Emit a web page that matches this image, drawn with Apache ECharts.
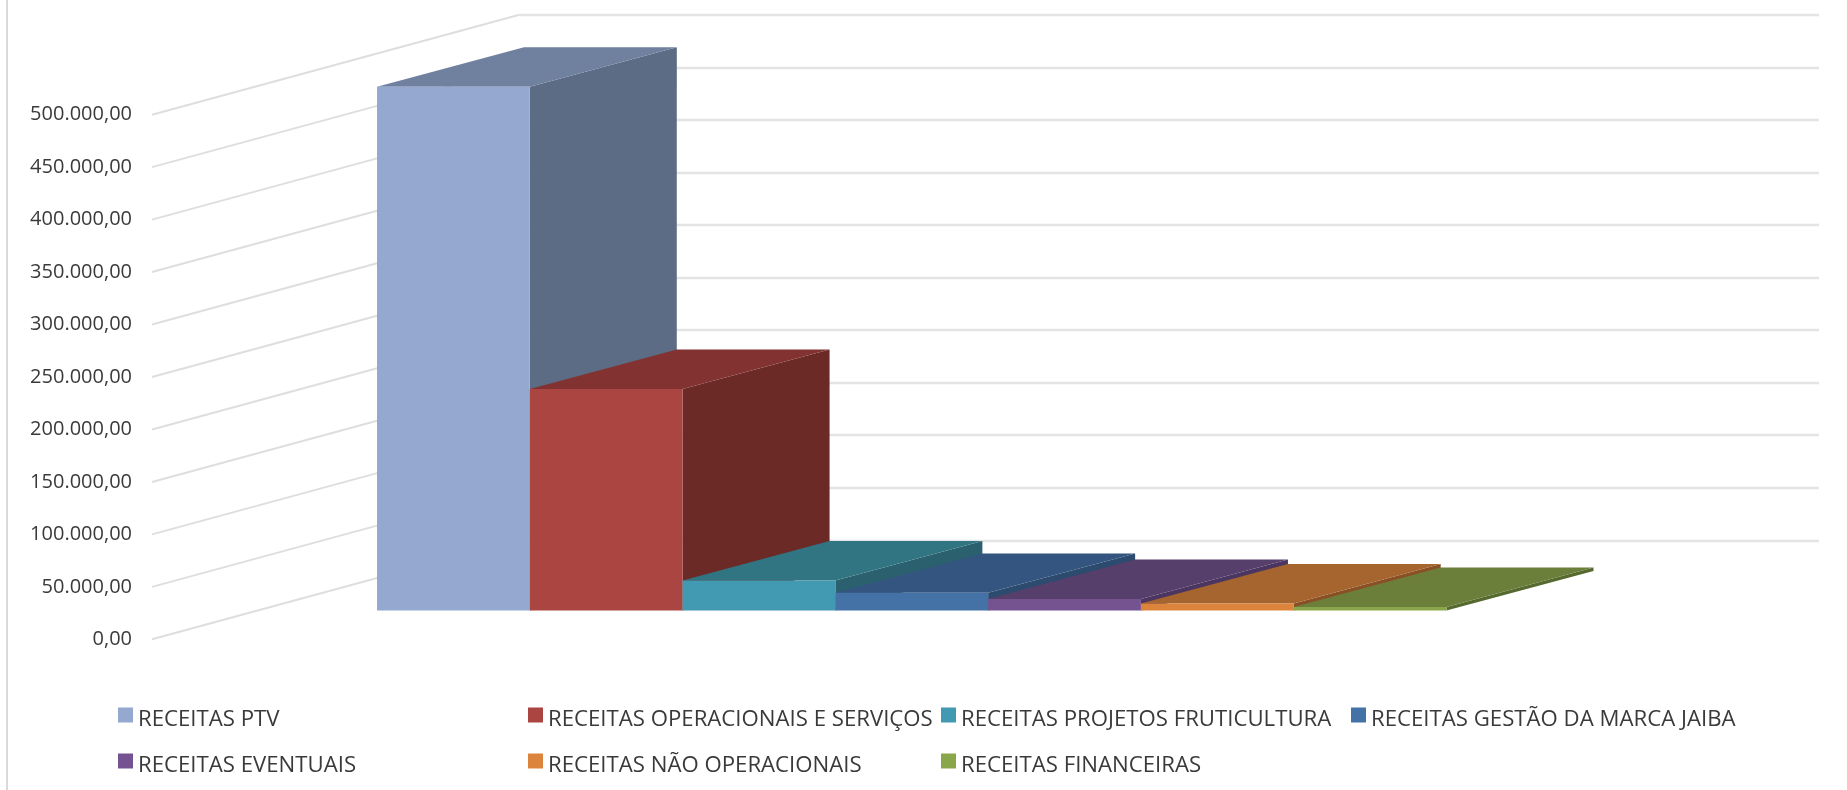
<!DOCTYPE html>
<html><head><meta charset="utf-8">
<style>html,body{margin:0;padding:0;background:#fff}#c{width:1847px;height:790px;filter:blur(0.6px)}</style>
<script src="https://cdn.jsdelivr.net/npm/echarts@6/dist/echarts.min.js"></script>
</head><body><div id="c"></div>
<script>
const categories = ["RECEITAS PTV","RECEITAS OPERACIONAIS E SERVIÇOS","RECEITAS PROJETOS FRUTICULTURA","RECEITAS GESTÃO DA MARCA JAIBA","RECEITAS EVENTUAIS","RECEITAS NÃO OPERACIONAIS","RECEITAS FINANCEIRAS"];
const values = [499200,211200,28600,16800,11000,6700,3400];
const tickValues = [0,50000,100000,150000,200000,250000,300000,350000,400000,450000,500000];
const tickLabels = ["0,00","50.000,00","100.000,00","150.000,00","200.000,00","250.000,00","300.000,00","350.000,00","400.000,00","450.000,00","500.000,00"];
const frontColors = ["#95A9D0","#AB4542","#4299B2","#4472A6","#755390","#DD843C","#8AA64A"];
const topColors = ["#70809F","#823331","#317583","#33557F","#573F6B","#A6642E","#6B7F3B"];
const sideColors = ["#5D6C85","#6C2A27","#2B616E","#2C4B6F","#4A3660","#8A5025","#566A30"];
const FONT = "'Open Sans'", TXT = "#3a3a3a";
const DX = 147, DY = 39.4;          // depth of a bar
const WX = 367.5, WY = 100;         // depth of the side wall
const LEG = 22.2;
const LEGEND_ICON = 'path://M0,0H15V15H0Z M0,24L0,24';

const chart = echarts.init(document.getElementById('c'), null, {renderer:'canvas'});
const hiddenX = i => ({gridIndex:i,type:'value',min:0,max:1,show:false});
const legendCol = (names,left) => ({
  data:names, orient:'vertical', left, top:707.5, itemGap:22, itemWidth:15, itemHeight:24,
  icon:LEGEND_ICON, padding:0, selectedMode:false,
  textStyle:{fontFamily:FONT,fontSize:LEG,color:TXT}
});
const option = {
  animation:false, backgroundColor:'#fff',
  graphic:[{type:'line',silent:true,shape:{x1:7,y1:0,x2:7,y2:790},style:{stroke:'#d9d9d9',lineWidth:2}}],
  grid:[
    {left:377,width:1069.5,top:85.9,height:524.6},
    {left:152,width:WX,top:114.7,height:524.6},
    {left:519.5,width:1299.5,top:14.7,height:525.6}
  ],
  xAxis:[{gridIndex:0,type:'category',data:categories,show:false},hiddenX(1),hiddenX(2)],
  yAxis:[
    {gridIndex:0,type:'value',min:0,max:500000,interval:50000,show:false},
    {gridIndex:1,type:'value',min:0,max:500000,interval:50000,
      axisLine:{show:false},axisTick:{show:false},splitLine:{show:false},
      axisLabel:{margin:20,fontFamily:FONT,fontSize:20,color:TXT,padding:[4,0,0,0],
        formatter:v=>tickLabels[tickValues.indexOf(v)]}},
    {gridIndex:2,type:'value',min:0,max:500000,interval:50000,
      axisLine:{show:false},axisTick:{show:false},axisLabel:{show:false},
      splitLine:{show:true,lineStyle:{color:'#e4e4e4',width:2.4}}}
  ],
  legend:[
    legendCol([categories[0],categories[4]],118),
    legendCol([categories[1],categories[5]],528),
    legendCol([categories[2],categories[6]],941),
    legendCol([categories[3]],1351)
  ],
  series:[
    {type:'custom',name:'parede',xAxisIndex:1,yAxisIndex:1,silent:true,z:1,clip:false,
     data:tickValues.map(v=>[0,v]),
     renderItem:(p,api)=>{
       const a=api.coord([0,api.value(1)]);
       return {type:'line',shape:{x1:a[0],y1:a[1],x2:a[0]+WX,y2:a[1]-WY},style:{stroke:'#dedede',lineWidth:2}};
     }},
    ...categories.map((name,k)=>({
      type:'custom',name,xAxisIndex:0,yAxisIndex:0,silent:true,z:2+k,clip:false,
      itemStyle:{color:frontColors[k]},
      data:[[k,values[k]]],
      renderItem:(p,api)=>{
        const i=api.value(0),v=api.value(1);
        const b=api.coord([i,0]),t=api.coord([i,v]),w=api.size([1,0])[0];
        const x0=b[0]-w/2,x1=b[0]+w/2,y0=b[1],y1=t[1];
        return {type:'group',children:[
          {type:'polygon',shape:{points:[[x1,y1],[x1+DX,y1-DY],[x1+DX,y0-DY],[x1,y0]]},style:{fill:sideColors[k]}},
          {type:'polygon',shape:{points:[[x0,y1],[x0+DX,y1-DY],[x1+DX,y1-DY],[x1,y1]]},style:{fill:topColors[k]}},
          {type:'rect',shape:{x:x0,y:y1,width:w,height:y0-y1},style:{fill:frontColors[k]}}
        ]};
      }
    }))
  ]
};
chart.setOption(option);
</script></body></html>
